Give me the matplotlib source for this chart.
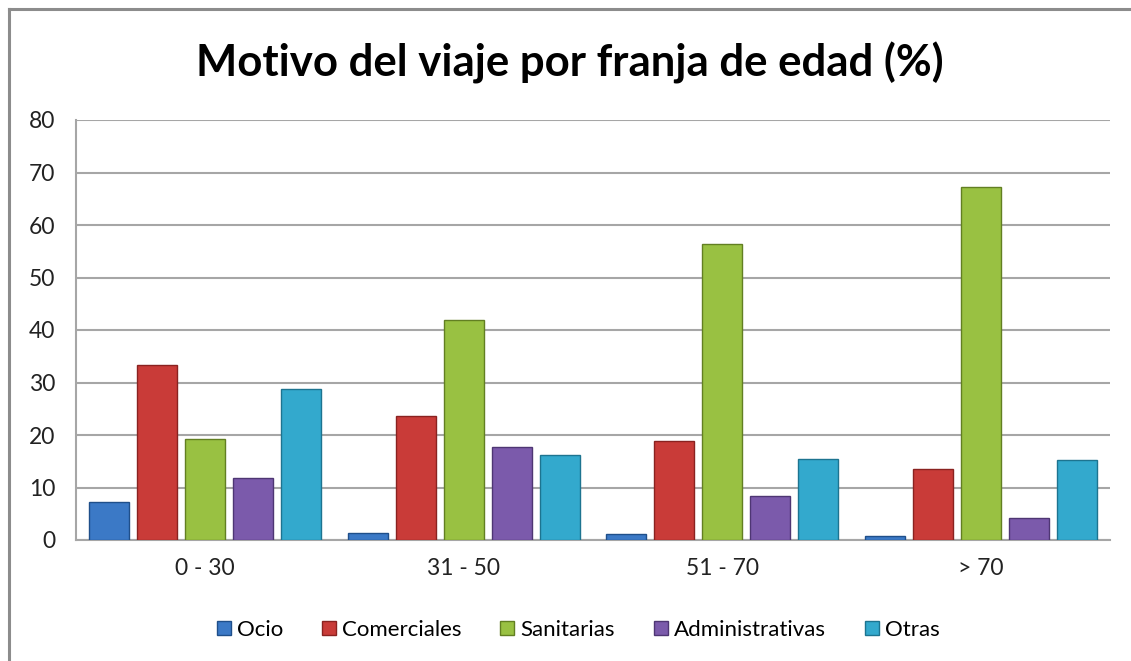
import matplotlib
matplotlib.use("Agg")
import matplotlib.pyplot as plt
import numpy as np
from matplotlib.lines import Line2D

categories = ["0 - 30", "31 - 50", "51 - 70", "> 70"]
series_names = ["Ocio", "Comerciales", "Sanitarias", "Administrativas", "Otras"]
ocio = [7.3, 1.4, 1.1, 0.7]
comerciales = [33.3, 23.7, 18.9, 13.5]
sanitarias = [19.2, 42.0, 56.3, 67.2]
administrativas = [11.9, 17.7, 8.4, 4.2]
otras = [28.7, 16.1, 15.5, 15.2]
yticks = [0, 10, 20, 30, 40, 50, 60, 70, 80]

series = [ocio, comerciales, sanitarias, administrativas, otras]
colors = ["#3b79c6", "#c93b38", "#99c142", "#7b5aab", "#33a9cd"]
edges = ["#1f4f8a", "#8a2220", "#627f22", "#4e3673", "#1d7490"]

plt.rcParams['font.family'] = ['Lato', 'DejaVu Sans']

W, H = 1131, 661
fig = plt.figure(figsize=(W / 100, H / 100), dpi=100)
fig.patch.set_facecolor("white")

ax = fig.add_axes([76 / W, (H - 540) / H, (1110 - 76) / W, (540 - 120) / H])

x = np.arange(len(categories))
step = 0.186
width = 0.155
for i, (vals, c, e) in enumerate(zip(series, colors, edges)):
    pos = x + (i - 2) * step
    ax.bar(pos, vals, width=width, color=c, edgecolor=e, linewidth=1.0,
           label=series_names[i], zorder=3)

ax.set_ylim(0, 80)
ax.set_xlim(-0.5, len(categories) - 0.5)
ax.set_yticks(yticks)
ax.set_yticklabels([str(v) for v in yticks], fontsize=16.5, color="#222222")
ax.set_xticks(x)
ax.set_xticklabels(categories, fontsize=16.5, color="#222222")
ax.tick_params(axis="y", length=0, pad=15)
ax.tick_params(axis="x", length=0, pad=13)
ax.grid(axis="y", color="#a6a6a6", linewidth=1.5, zorder=0)
ax.set_axisbelow(True)
for s in ["top", "right"]:
    ax.spines[s].set_visible(False)
for s in ["left", "bottom"]:
    ax.spines[s].set_color("#a6a6a6")
    ax.spines[s].set_linewidth(1.5)

fig.text(570 / W, 1 - 63 / H, "Motivo del viaje por franja de edad (%)",
         ha="center", va="center", fontsize=31.5, fontweight="bold", color="black")

handles = [Line2D([0], [0], marker="s", linestyle="", markersize=10,
                  markerfacecolor=c, markeredgecolor=e) for c, e in zip(colors, edges)]
fig.legend(handles, series_names, loc="center", bbox_to_anchor=(575 / W, 1 - 630 / H),
           ncol=5, frameon=False, fontsize=16, handletextpad=0.0, columnspacing=1.45,
           handlelength=1.2)

# outer chart border (left and top)
fig.add_artist(Line2D([8.5 / W, 8.5 / W], [0, 1 - 9 / H], transform=fig.transFigure,
                      color="#8c8c8c", linewidth=2.2))
fig.add_artist(Line2D([8.5 / W, 1], [1 - 9 / H, 1 - 9 / H], transform=fig.transFigure,
                      color="#8c8c8c", linewidth=2.2))

fig.savefig("out.png", dpi=100)
